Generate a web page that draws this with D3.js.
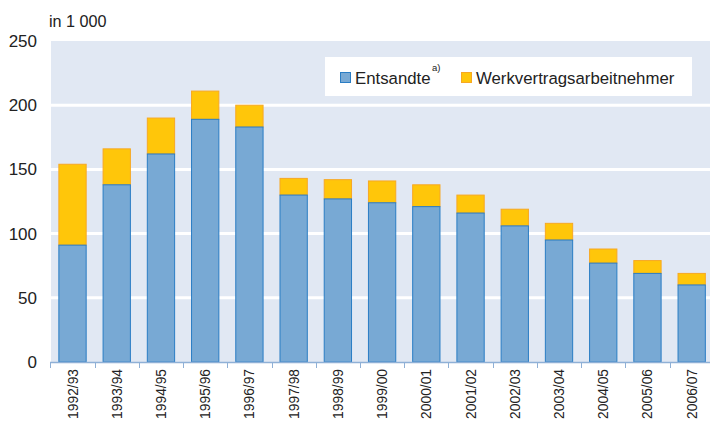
<!DOCTYPE html>
<html><head><meta charset="utf-8">
<script src="https://cdn.jsdelivr.net/npm/d3@7"></script>
<style>body{margin:0;background:#fff}svg{display:block;font-family:"Liberation Sans",Arial,sans-serif}</style>
</head><body>
<svg id="c" width="710" height="425"></svg>
<script>
const categories = ["1992/93","1993/94","1994/95","1995/96","1996/97","1997/98","1998/99","1999/00","2000/01","2001/02","2002/03","2003/04","2004/05","2005/06","2006/07"];
const entsandte = [91,138,162,189,183,130,127,124,121,116,106,95,77,69,60];
const werkvertrag = [63,28,28,22,17,13,15,17,17,14,13,13,11,10,9];
const yTicks = [0,50,100,150,200,250];
const seriesNames = ["Entsandte","Werkvertragsarbeitnehmer"];

const svg = d3.select("#c");
const m = {l:51, r:710, t:41, b:362};
const x = d3.scaleBand().domain(categories).range([50.4, 713.8]).paddingInner(0.36).paddingOuter(0.18);
const y = d3.scaleLinear().domain([0,250]).range([m.b, m.t]);

svg.append("rect").attr("x",m.l).attr("y",m.t).attr("width",m.r-m.l).attr("height",m.b-m.t).attr("fill","#e1e8f3");
svg.selectAll("line.grid").data(yTicks.filter(d=>d>0 && d<250)).enter().append("line")
  .attr("x1",m.l).attr("x2",m.r).attr("y1",d=>y(d)).attr("y2",d=>y(d))
  .attr("stroke","#fff").attr("stroke-width",3);

const data = categories.map((c,i)=>({c, a:entsandte[i], b:werkvertrag[i]}));
const g = svg.append("g");
g.selectAll("rect.b").data(data).enter().append("rect")
  .attr("x",d=>x(d.c)+0.5).attr("width",x.bandwidth()-1)
  .attr("y",d=>y(d.a+d.b)).attr("height",d=>y(d.a)-y(d.a+d.b))
  .attr("fill","#ffc60a").attr("stroke","#f7a823").attr("stroke-width",1);
g.selectAll("rect.a").data(data).enter().append("rect")
  .attr("x",d=>x(d.c)+0.5).attr("width",x.bandwidth()-1)
  .attr("y",d=>y(d.a)).attr("height",d=>y(0)-y(d.a))
  .attr("fill","#78a9d4").attr("stroke","#2a7dc4").attr("stroke-width",1);

// x axis
const xa = svg.append("g");
xa.append("line").attr("x1",m.l-1).attr("x2",m.r).attr("y1",m.b+0.5).attr("y2",m.b+0.5).attr("stroke","#8fb0d6").attr("stroke-width",1.5);
const bounds = categories.map(c=>x(c)-x.step()*x.paddingInner()/2);
xa.selectAll("line.t").data(bounds).enter().append("line")
  .attr("x1",d=>Math.round(d)+0.5).attr("x2",d=>Math.round(d)+0.5).attr("y1",m.b).attr("y2",m.b+6)
  .attr("stroke","#8fb0d6").attr("stroke-width",1);
xa.selectAll("text").data(categories).enter().append("text")
  .attr("transform",d=>`translate(${x(d)+x.bandwidth()/2+5},${m.b+7}) rotate(-90)`)
  .attr("text-anchor","end").attr("font-size",13.8).attr("fill","#222").text(d=>d);

// y axis labels
svg.selectAll("text.y").data(yTicks).enter().append("text")
  .attr("x",37).attr("y",d=>y(d)+6).attr("text-anchor","end").attr("font-size",17).attr("fill","#222").text(d=>d);
svg.append("text").attr("x",49).attr("y",27).attr("font-size",16.2).attr("fill","#222").text("in 1 000");

// legend
const lg = svg.append("g");
lg.append("rect").attr("x",325).attr("y",57).attr("width",367).attr("height",39).attr("fill","#fff");
lg.append("rect").attr("x",340.5).attr("y",72.5).attr("width",10).attr("height",10).attr("fill","#78a9d4").attr("stroke","#2a7dc4");
lg.append("text").attr("x",355).attr("y",84).attr("font-size",16.8).attr("fill","#222").text(seriesNames[0]);
lg.append("text").attr("x",432).attr("y",71).attr("font-size",9.5).attr("fill","#222").text("a)");
lg.append("rect").attr("x",461.5).attr("y",72.5).attr("width",10).attr("height",10).attr("fill","#ffc60a").attr("stroke","#f7a823");
lg.append("text").attr("x",476).attr("y",84).attr("font-size",16.8).attr("fill","#222").text(seriesNames[1]);
</script>
</body></html>
